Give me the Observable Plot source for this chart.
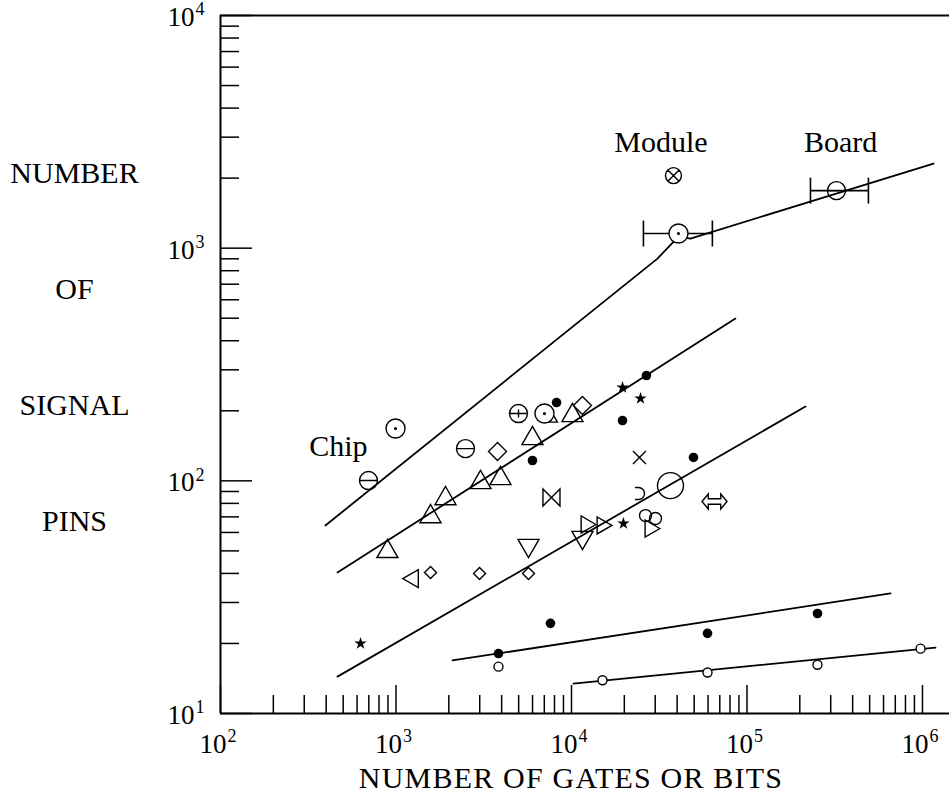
<!DOCTYPE html>
<html><head><meta charset="utf-8">
<script src="https://cdn.jsdelivr.net/npm/d3@7"></script>
<script src="https://cdn.jsdelivr.net/npm/@observablehq/plot@0.6"></script>
<style>body{margin:0;background:#fff;} svg{display:block}</style>
</head><body><div id="chart"></div>
<script>
// ---------------- data ----------------
const xTicksMajor = [1e2, 1e3, 1e4, 1e5, 1e6];
const xTickExponents = ["2", "3", "4", "5", "6"];
const yTicksMajor = [1e1, 1e2, 1e3, 1e4];
const yTickExponents = ["1", "2", "3", "4"];
const xTitle = "NUMBER OF GATES OR BITS";
const yTitleWords = ["NUMBER", "OF", "SIGNAL", "PINS"];

// fitted lines
const lineTopX = [396, 30900, 40700, 47640, 1156000];
const lineTopY = [64.3, 902, 1122, 1099, 2311];
const line2X = [464, 85960];   const line2Y = [40.4, 498];
const line3X = [464, 215400];  const line3Y = [14.4, 208.6];
const line4X = [2099, 657600]; const line4Y = [16.9, 32.8];
const line5X = [10260, 1186000]; const line5Y = [13.45, 19.2];

// markers
const openDotX = [3837, 15020, 59570, 252200, 974700];
const openDotY = [15.9, 13.9, 15.0, 16.2, 19.0];
const filledDotX = [3837, 7590, 59570, 252200, 49560, 19530, 26740, 8220, 5993];
const filledDotY = [18.1, 24.4, 22.1, 26.9, 126, 181.6, 283.5, 217, 122.3];
const starX = [19530, 24730, 19770, 628];
const starY = [251.8, 225.8, 65.5, 20.0];
const crossX = [24400];  const crossY = [126];
const bowtieX = [7690];  const bowtieY = [84.8];
const bigCircleX = [36650]; const bigCircleY = [95.4];
const dblArrowX = [65300]; const dblArrowY = [81.5];
const triUpX = [894, 1573, 1915, 3030, 3939, 5993, 10130];
const triUpY = [51.2, 72.3, 86.4, 101.3, 105.4, 156.6, 196.6];
const smallTriUpX = [7890]; const smallTriUpY = [185];
const bigDiamondX = [3788, 11550]; const bigDiamondY = [133.6, 210.7];
const smallDiamondX = [1573, 2992, 5689]; const smallDiamondY = [40.4, 40.0, 40.0];
const triLeftX = [1210]; const triLeftY = [38.0];
const triDownX = [5689, 11550]; const triDownY = [51.2, 55.4];
const triRightX = [12500, 15420, 28940]; const triRightY = [64.9, 64.3, 62.4];
const midCircleX = [26410, 30100]; const midCircleY = [70.9, 68.9];
const hookX = [24100]; const hookY = [88.2];
const thetaX = [697, 2489, 323600]; const thetaY = [100.3, 137.6, 1768];
const thetaTickX = [4989]; const thetaTickY = [194.6];
const circleDotX = [994, 7015, 40700]; const circleDotY = [167.8, 194.6, 1156];
const circleTimesX = [38110]; const circleTimesY = [2051];
const errY = [1156, 1768];
const errLo = [25700, 230000];
const errHi = [63500, 492000];
const labelText = ["Chip", "Module", "Board"];
const labelX = [470, 32360, 341400];
const labelY = [141, 2844, 2844];

// ---------------- helpers ----------------
const pts = (X, Y) => X.map((x, i) => ({x, y: Y[i]}));
const S = (fn) => ({draw(c, size) { fn(c, Math.sqrt(size / Math.PI)); }});
const poly = (p) => S((c, r) => { p.forEach(([x, y], i) => i ? c.lineTo(x * r, y * r) : c.moveTo(x * r, y * r)); c.closePath(); });
const ring = (c, r) => { c.moveTo(r, 0); c.arc(0, 0, r, 0, 2 * Math.PI); };
const symTriUp = poly([[0, -0.866], [1, 0.866], [-1, 0.866]]);
const symTriDown = poly([[0, 0.866], [1, -0.866], [-1, -0.866]]);
const symTriRight = poly([[0.866, 0], [-0.866, -1], [-0.866, 1]]);
const symTriLeft = poly([[-0.866, 0], [0.866, -1], [0.866, 1]]);
const symDiamond = poly([[0, -1], [1, 0], [0, 1], [-1, 0]]);
const symRing = S((c, r) => ring(c, r));
const symTheta = S((c, r) => { ring(c, r); c.moveTo(-r, 0); c.lineTo(r, 0); });
const symThetaTick = S((c, r) => { ring(c, r); c.moveTo(-r, 0); c.lineTo(r, 0); c.moveTo(0, -0.45 * r); c.lineTo(0, 0.45 * r); });
const symODot = S((c, r) => { ring(c, r); c.moveTo(0.9, 0); c.arc(0, 0, 0.9, 0, 2 * Math.PI); });
const symOTimes = S((c, r) => { ring(c, r); const k = r * 0.707; c.moveTo(-k, -k); c.lineTo(k, k); c.moveTo(-k, k); c.lineTo(k, -k); });
const symX = S((c, r) => { c.moveTo(-r, -r); c.lineTo(r, r); c.moveTo(-r, r); c.lineTo(r, -r); });
const symBowtie = S((c, r) => { c.moveTo(-r, -r); c.lineTo(0, 0); c.lineTo(-r, r); c.closePath(); c.moveTo(r, -r); c.lineTo(0, 0); c.lineTo(r, r); c.closePath(); });
const symDblArrow = poly([[-1, 0], [-0.5, -0.6], [-0.5, -0.22], [0.5, -0.22], [0.5, -0.6], [1, 0], [0.5, 0.6], [0.5, 0.22], [-0.5, 0.22], [-0.5, 0.6]]);
const symVBar = S((c, r) => { c.moveTo(0, -r); c.lineTo(0, r); });
const symHook = S((c, r) => { c.moveTo(-0.6 * r, -r); c.lineTo(0, -r); c.arc(0, 0, r, -Math.PI / 2, Math.PI / 2); c.lineTo(-0.6 * r, r); });

const minorX = d3.scaleLog().domain([1e2, 1e6]).ticks().filter(d => !xTicksMajor.includes(d));
const minorY = d3.scaleLog().domain([1e1, 1e4]).ticks().filter(d => !yTicksMajor.includes(d));

const W = 949, H = 796, mL = 220, mR = 0, mT = 15, mB = 83;
const fw = W - mL - mR, fh = H - mT - mB;
const serif = "'Liberation Serif', 'Times New Roman', serif";
const ink = "black";
const sw = 1.4;
const dot = (X, Y, symbol, r, fill = "none", extra = {}) =>
  Plot.dot(pts(X, Y), {x: "x", y: "y", symbol, r, fill, stroke: ink, strokeWidth: sw, ...extra});

const chart = Plot.plot({
  width: W, height: H,
  marginLeft: mL, marginRight: mR, marginTop: mT, marginBottom: mB,
  x: {type: "log", domain: [100, 10 ** 6.154], axis: null},
  y: {type: "log", domain: [10, 1e4], axis: null},
  style: {fontFamily: serif, background: "white", color: ink},
  marks: [
    // frame
    Plot.ruleX([1e2], {stroke: ink, strokeWidth: 2}),
    Plot.ruleY([1e1, 1e4], {stroke: ink, strokeWidth: 2}),
    // ticks (inward)
    Plot.ruleX(minorX, {stroke: ink, strokeWidth: 1.5, insetTop: fh - 18}),
    Plot.ruleX(xTicksMajor, {stroke: ink, strokeWidth: 1.5, insetTop: fh - 28}),
    Plot.ruleY(minorY, {stroke: ink, strokeWidth: 1.5, insetRight: fw - 19}),
    Plot.ruleY(yTicksMajor, {stroke: ink, strokeWidth: 1.5, insetRight: fw - 32}),
    // tick labels
    Plot.text(xTicksMajor, {x: d => d, frameAnchor: "bottom", lineAnchor: "middle", text: () => "10", textAnchor: "end", dx: 6, dy: 31, fontSize: 27}),
    Plot.text(xTicksMajor, {x: d => d, frameAnchor: "bottom", lineAnchor: "middle", text: (d, i) => xTickExponents[i], textAnchor: "start", dx: 7, dy: 23, fontSize: 18}),
    Plot.text(yTicksMajor, {y: d => d, frameAnchor: "left", lineAnchor: "middle", text: () => "10", textAnchor: "end", dx: -26, dy: 2, fontSize: 27}),
    Plot.text(yTicksMajor, {y: d => d, frameAnchor: "left", lineAnchor: "middle", text: (d, i) => yTickExponents[i], textAnchor: "start", dx: -25, dy: -6, fontSize: 18}),
    // axis titles
    Plot.text([xTitle], {frameAnchor: "bottom", lineAnchor: "middle", textAnchor: "middle", text: d => d, dx: -14, dy: 65, fontSize: 30}),
    Plot.text([yTitleWords.join("\n")], {frameAnchor: "left", lineAnchor: "middle", textAnchor: "middle", text: d => d, dx: -146, dy: -45, fontSize: 30, lineHeight: 3.87}),
    // lines
    Plot.line(pts(lineTopX, lineTopY), {x: "x", y: "y", stroke: ink, strokeWidth: 1.8}),
    Plot.line(pts(line2X, line2Y), {x: "x", y: "y", stroke: ink, strokeWidth: 1.8}),
    Plot.line(pts(line3X, line3Y), {x: "x", y: "y", stroke: ink, strokeWidth: 1.8}),
    Plot.line(pts(line4X, line4Y), {x: "x", y: "y", stroke: ink, strokeWidth: 1.8}),
    Plot.line(pts(line5X, line5Y), {x: "x", y: "y", stroke: ink, strokeWidth: 1.8}),
    // error bars
    Plot.ruleY(errY.map((y, i) => ({y, lo: errLo[i], hi: errHi[i]})), {y: "y", x1: "lo", x2: "hi", stroke: ink, strokeWidth: 1.6}),
    dot(errLo, errY, symVBar, 13, "none", {strokeWidth: 1.6}),
    dot(errHi, errY, symVBar, 13, "none", {strokeWidth: 1.6}),
    // markers
    dot(openDotX, openDotY, symRing, 4.5, "white"),
    Plot.dot(pts(filledDotX, filledDotY), {x: "x", y: "y", r: 4.8, fill: ink}),
    Plot.dot(pts(starX, starY), {x: "x", y: "y", symbol: "star", r: 3.9, fill: ink}),
    dot(crossX, crossY, symX, 6.5),
    dot(bowtieX, bowtieY, symBowtie, 8.5),
    dot(bigCircleX, bigCircleY, symRing, 13),
    dot(dblArrowX, dblArrowY, symDblArrow, 12.5, "white"),
    dot(triUpX, triUpY, symTriUp, 10.5),
    dot(smallTriUpX, smallTriUpY, symTriUp, 4),
    dot(bigDiamondX, bigDiamondY, symDiamond, 9, "white"),
    dot(smallDiamondX, smallDiamondY, symDiamond, 6, "white"),
    dot(triLeftX, triLeftY, symTriLeft, 9),
    dot(triDownX, triDownY, symTriDown, 10.5),
    dot(triRightX, triRightY, symTriRight, 8.5),
    dot(midCircleX, midCircleY, symRing, 6),
    dot(hookX, hookY, symHook, 6),
    dot(thetaX, thetaY, symTheta, 9),
    dot(thetaTickX, thetaTickY, symThetaTick, 9),
    dot(circleDotX, circleDotY, symODot, 9.5, "white"),
    dot(circleTimesX, circleTimesY, symOTimes, 8, "white"),
    // labels
    Plot.text(pts(labelX, labelY).map((d, i) => ({...d, t: labelText[i]})), {x: "x", y: "y", text: "t", fontSize: 30})
  ]
});

// slight letter spacing on the x-axis title, like the original wide type
d3.select(chart).selectAll("text").filter(function () { return this.textContent === xTitle; })
  .attr("letter-spacing", "1.2px");
document.getElementById("chart").appendChild(chart);
</script>
</body></html>
